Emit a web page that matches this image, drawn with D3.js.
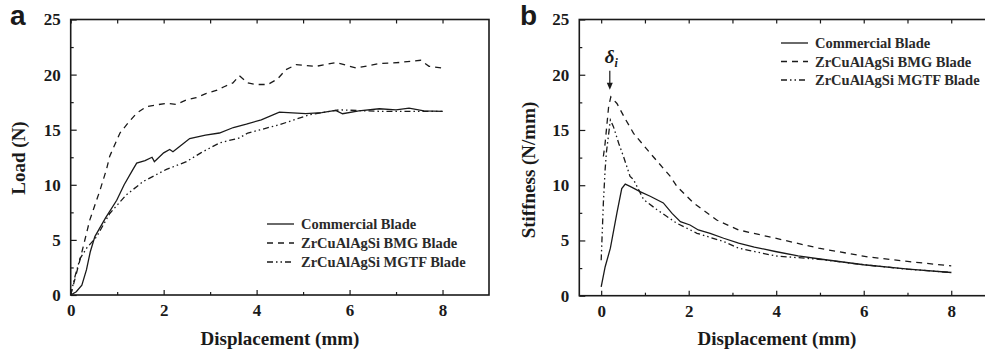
<!DOCTYPE html>
<html>
<head>
<meta charset="utf-8">
<script src="https://cdn.jsdelivr.net/npm/d3@7"></script>
<style>
  body { margin: 0; background: #fff; }
  svg { display: block; }
  .tick-label { font-family: "Liberation Serif", "Times New Roman", serif; font-weight: bold; font-size: 17px; fill: #1a1a1a; }
  .axis-title { font-family: "Liberation Serif", "Times New Roman", serif; font-weight: bold; font-size: 19px; fill: #1a1a1a; }
  .legend-text { font-family: "Liberation Serif", "Times New Roman", serif; font-weight: bold; font-size: 14.5px; fill: #2a2a2a; }
  .panel-letter { font-family: "Liberation Sans", Arial, sans-serif; font-weight: bold; font-size: 28px; fill: #1a1a1a; }
  .series { fill: none; stroke: #1a1a1a; stroke-width: 1.3; }
</style>
</head>
<body>
<div id="chart"></div>
<script>
// --- data ---
const seriesNames = ["Commercial Blade", "ZrCuAlAgSi BMG Blade", "ZrCuAlAgSi MGTF Blade"];
const xTicks = [0, 2, 4, 6, 8];
const yTicks = [0, 5, 10, 15, 20, 25];

// panel a: load (N) vs displacement (mm)
const loadCommercial = [[0,0],[0.12,0.3],[0.24,0.9],[0.34,2.3],[0.42,3.9],[0.52,5.3],[0.75,7.0],[0.99,8.6],[1.15,10.0],[1.34,11.4],[1.42,11.97],[1.6,12.2],[1.75,12.5],[1.8,12.1],[1.85,12.3],[2.0,12.9],[2.13,13.2],[2.2,13.0],[2.35,13.5],[2.56,14.2],[2.9,14.5],[3.2,14.7],[3.5,15.2],[3.78,15.5],[4.1,15.9],[4.49,16.6],[5.06,16.45],[5.4,16.55],[5.7,16.75],[5.85,16.45],[6.2,16.7],[6.64,16.9],[7.0,16.8],[7.28,16.95],[7.6,16.7],[8.0,16.67]];
const loadBMG = [[0,0],[0.05,0.8],[0.2,3.2],[0.41,6.8],[0.63,9.5],[0.77,11.4],[0.84,12.6],[1.06,14.7],[1.25,15.7],[1.42,16.5],[1.63,17.1],[2.06,17.4],[2.27,17.3],[2.49,17.7],[2.7,17.9],[2.92,18.3],[3.15,18.6],[3.3,18.9],[3.49,19.25],[3.63,19.9],[3.81,19.25],[3.99,19.1],[4.24,19.1],[4.45,19.6],[4.63,20.45],[4.85,20.9],[5.28,20.75],[5.71,21.1],[6.14,20.6],[6.4,20.8],[6.64,21.0],[7.07,21.1],[7.53,21.3],[7.71,20.75],[8.0,20.6]];
const loadMGTF = [[0,0],[0.08,1.5],[0.2,3.3],[0.35,4.3],[0.56,5.3],[0.84,7.4],[1.2,9.1],[1.56,10.3],[2.06,11.4],[2.49,12.1],[2.8,12.9],[3.2,13.8],[3.63,14.25],[3.81,14.7],[4.49,15.45],[5.14,16.36],[5.78,16.8],[6.64,16.67],[7.2,16.67],[8.0,16.67]];

// panel b: stiffness (N/mm) vs displacement (mm)
const stiffCommercial = [[0,0.8],[0.09,2.6],[0.21,4.3],[0.36,7.5],[0.47,9.7],[0.55,10.1],[0.66,9.9],[0.9,9.4],[1.12,9.0],[1.42,8.4],[1.62,7.45],[1.81,6.7],[2.03,6.4],[2.22,5.95],[2.49,5.65],[2.8,5.2],[3.14,4.75],[3.5,4.4],[3.98,4.0],[4.5,3.6],[5.04,3.3],[6.0,2.8],[7.02,2.4],[8.0,2.1]];
const stiffBMG = [[0.05,12.6],[0.09,13.8],[0.17,17.1],[0.22,18.0],[0.36,17.4],[0.55,16.0],[0.74,14.7],[1.12,12.9],[1.58,10.8],[1.73,9.9],[2.11,8.4],[2.64,6.85],[3.14,5.95],[3.82,5.35],[4.97,4.3],[6.11,3.5],[7.0,3.1],[8.0,2.7]];
const stiffMGTF = [[0,3.2],[0.05,8.4],[0.09,11.4],[0.12,13.0],[0.21,15.9],[0.28,15.3],[0.4,13.8],[0.51,12.6],[0.66,10.8],[0.74,10.5],[0.97,8.7],[1.27,7.8],[1.73,6.55],[2.19,5.65],[2.8,4.9],[3.14,4.3],[3.98,3.6],[4.97,3.3],[6.0,2.8],[7.0,2.4],[8.0,2.1]];

// dash styles: solid, dashed, dash-dot-dot
const dashStyles = [null, "6,5", "6,3,1.5,3,1.5,3"];

const width = 985, height = 355;
const svg = d3.select("#chart").append("svg")
    .attr("width", width)
    .attr("height", height);

function drawPanel(opt) {
    const x = d3.scaleLinear().domain(opt.xDomain).range(opt.xRange);
    const y = d3.scaleLinear().domain([0, 25]).range(opt.yRange);
    const g = svg.append("g");

    const [x0, x1] = opt.xRange;
    const [yb, yt] = opt.yRange;
    const clipId = "clip-" + opt.letter;
    svg.append("clipPath").attr("id", clipId)
        .append("rect").attr("x", x0).attr("y", yt).attr("width", x1 - x0).attr("height", yb - yt);

    const xMinor = [1, 3, 5, 7];
    const yMinor = [2.5, 7.5, 12.5, 17.5, 22.5];

    // bottom axis, ticks pointing inward
    g.append("g").attr("transform", `translate(0,${yb})`)
        .call(d3.axisBottom(x).tickValues(xTicks).tickSizeInner(-5).tickSizeOuter(0).tickPadding(9).tickFormat(d3.format("d")));
    g.append("g").attr("transform", `translate(0,${yb})`)
        .call(d3.axisBottom(x).tickValues(xMinor).tickSizeInner(-3).tickSizeOuter(0).tickFormat(""));
    // top axis
    g.append("g").attr("transform", `translate(0,${yt})`)
        .call(d3.axisTop(x).tickValues(xTicks.concat(xMinor)).tickSizeInner(-4).tickSizeOuter(0).tickFormat(""));
    // left axis
    g.append("g").attr("transform", `translate(${x0},0)`)
        .call(d3.axisLeft(y).tickValues(yTicks).tickSizeInner(-6).tickSizeOuter(0).tickPadding(10).tickFormat(d3.format("d")));
    g.append("g").attr("transform", `translate(${x0},0)`)
        .call(d3.axisLeft(y).tickValues(yMinor).tickSizeInner(-3).tickSizeOuter(0).tickFormat(""));

    g.selectAll(".domain").remove();
    g.selectAll(".tick line").attr("stroke", "#1a1a1a").attr("stroke-width", 1.2);
    g.selectAll(".tick text").attr("class", "tick-label").attr("font-family", null).attr("font-size", null).attr("fill", null);

    // frame
    g.append("rect")
        .attr("x", x0).attr("y", yt)
        .attr("width", x1 - x0).attr("height", yb - yt)
        .attr("fill", "none").attr("stroke", "#1a1a1a").attr("stroke-width", 1.6);

    // series
    const line = d3.line().x(d => x(d[0])).y(d => y(d[1]));
    opt.series.forEach((s, i) => {
        g.append("path")
            .datum(s)
            .attr("class", "series")
            .attr("clip-path", `url(#${clipId})`)
            .attr("stroke-dasharray", dashStyles[i])
            .attr("d", line);
    });

    // legend
    seriesNames.forEach((name, i) => {
        const ly = opt.legend.y + i * opt.legend.step;
        g.append("line")
            .attr("x1", opt.legend.x).attr("x2", opt.legend.x + 27)
            .attr("y1", ly).attr("y2", ly)
            .attr("class", "series")
            .attr("stroke-dasharray", dashStyles[i]);
        g.append("text")
            .attr("class", "legend-text")
            .attr("x", opt.legend.x + 34).attr("y", ly + 5)
            .text(name);
    });

    // titles
    g.append("text")
        .attr("class", "axis-title")
        .attr("x", opt.xTitleX).attr("y", 345)
        .attr("text-anchor", "middle")
        .text("Displacement (mm)");
    g.append("text")
        .attr("class", "axis-title")
        .attr("transform", `translate(${opt.yTitle.x},${opt.yTitle.y}) rotate(-90)`)
        .attr("text-anchor", "middle")
        .text(opt.yTitle.text);
    g.append("text")
        .attr("class", "panel-letter")
        .attr("x", opt.letterX).attr("y", 25)
        .text(opt.letter);

    return { x, y, g };
}

drawPanel({
    letter: "a", letterX: 10,
    xDomain: [0, 9], xRange: [70.7, 489],
    yRange: [295, 19.5],
    series: [loadCommercial, loadBMG, loadMGTF],
    legend: { x: 267, y: 224, step: 19 },
    xTitleX: 280,
    yTitle: { x: 25, y: 158, text: "Load (N)" }
});

const b = drawPanel({
    letter: "b", letterX: 520,
    xDomain: [-0.5, 9], xRange: [579.3, 995],
    yRange: [295.7, 19.5],
    series: [stiffCommercial, stiffBMG, stiffMGTF],
    legend: { x: 781, y: 43, step: 18.5 },
    xTitleX: 777,
    yTitle: { x: 535, y: 170, text: "Stiffness (N/mm)" }
});

// delta_i annotation at the BMG peak
const peakX = b.x(stiffBMG[3][0]);
const peakY = b.y(stiffBMG[3][1]);
const ann = b.g.append("text")
    .attr("x", peakX - 6).attr("y", peakY - 34)
    .attr("font-family", "Liberation Serif, serif")
    .attr("font-style", "italic").attr("font-weight", "bold")
    .attr("font-size", 19).attr("fill", "#1a1a1a")
    .text("δ");
ann.append("tspan").attr("font-size", 12).attr("dy", 4).text("i");
b.g.append("line")
    .attr("x1", peakX - 1).attr("x2", peakX - 1)
    .attr("y1", peakY - 26).attr("y2", peakY - 11)
    .attr("stroke", "#1a1a1a").attr("stroke-width", 1.2);
b.g.append("path")
    .attr("d", `M${peakX - 4},${peakY - 14}L${peakX - 1},${peakY - 7}L${peakX + 2},${peakY - 14}Z`)
    .attr("fill", "#1a1a1a");
</script>
</body>
</html>
